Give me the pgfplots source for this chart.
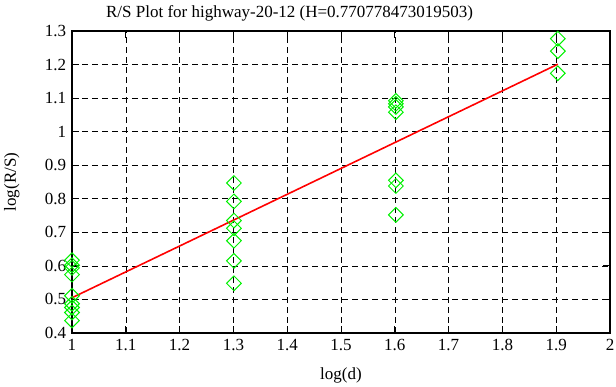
\documentclass[border=0pt]{standalone}
\usepackage{pgfplots}
\pgfplotsset{compat=1.18}
\usetikzlibrary{calc}
\usepackage{fontspec}
\setmainfont{Liberation Serif}
\begin{document}
\begin{tikzpicture}
\fontsize{17bp}{19bp}\selectfont
\begin{axis}[
  scale only axis,
  width=538bp, height=302bp,
  xmin=1, xmax=2, ymin=0.4, ymax=1.3,
  xtick={1,1.1,...,2.01}, ytick={0.4,0.5,...,1.31},
  /pgf/number format/assume math mode=true,
  xticklabel style={font=\fontsize{17bp}{19bp}\selectfont},
  yticklabel style={font=\fontsize{17bp}{19bp}\selectfont},
  tick align=inside,
  major tick length=7bp,
  tick style={black, line width=0.8pt},
  axis line style={line width=1.2pt},
  grid=major,
  major grid style={black, dash pattern=on 6bp off 4bp, line width=0.6pt},
  title={R/S Plot for highway-20-12 (H=0.770778473019503)},
  title style={font=\fontsize{17bp}{19bp}\selectfont, at={(axis description cs:0.4045,1)}, yshift=-2bp},
  xlabel={log(d)}, ylabel={log(R/S)},
  xlabel style={font=\fontsize{17bp}{19bp}\selectfont, at={(axis description cs:0.5,-0.139)}, anchor=center},
  ylabel style={font=\fontsize{17bp}{19bp}\selectfont, at={(axis description cs:-0.112,0.5)}, anchor=center},
  clip=false,
]
\addplot[only marks, mark=square, mark size=5.2bp, mark options={rotate=45, draw={rgb,255:red,0;green,240;blue,0}, line width=1pt}] coordinates {
(1.0,0.617)(1.0,0.602)(1.0,0.594)(1.0,0.574)(1.0,0.511)(1.0,0.487)(1.0,0.476)(1.0,0.461)(1.0,0.437)
(1.301,0.847)(1.301,0.792)(1.301,0.735)(1.301,0.712)(1.301,0.675)(1.301,0.615)(1.301,0.548)
(1.602,1.092)(1.602,1.083)(1.602,1.074)(1.602,1.058)(1.602,0.855)(1.602,0.838)(1.602,0.752)
(1.903,1.277)(1.903,1.240)(1.903,1.174)
};
\addplot[red, line width=1.6pt] coordinates {(1.0,0.505)(1.903,1.201)};
\end{axis}
\pgfresetboundingbox
\path ($(current axis.south west)+(-72bp,-54bp)$) rectangle ($(current axis.north east)+(6bp,31bp)$);
\end{tikzpicture}
\end{document}
